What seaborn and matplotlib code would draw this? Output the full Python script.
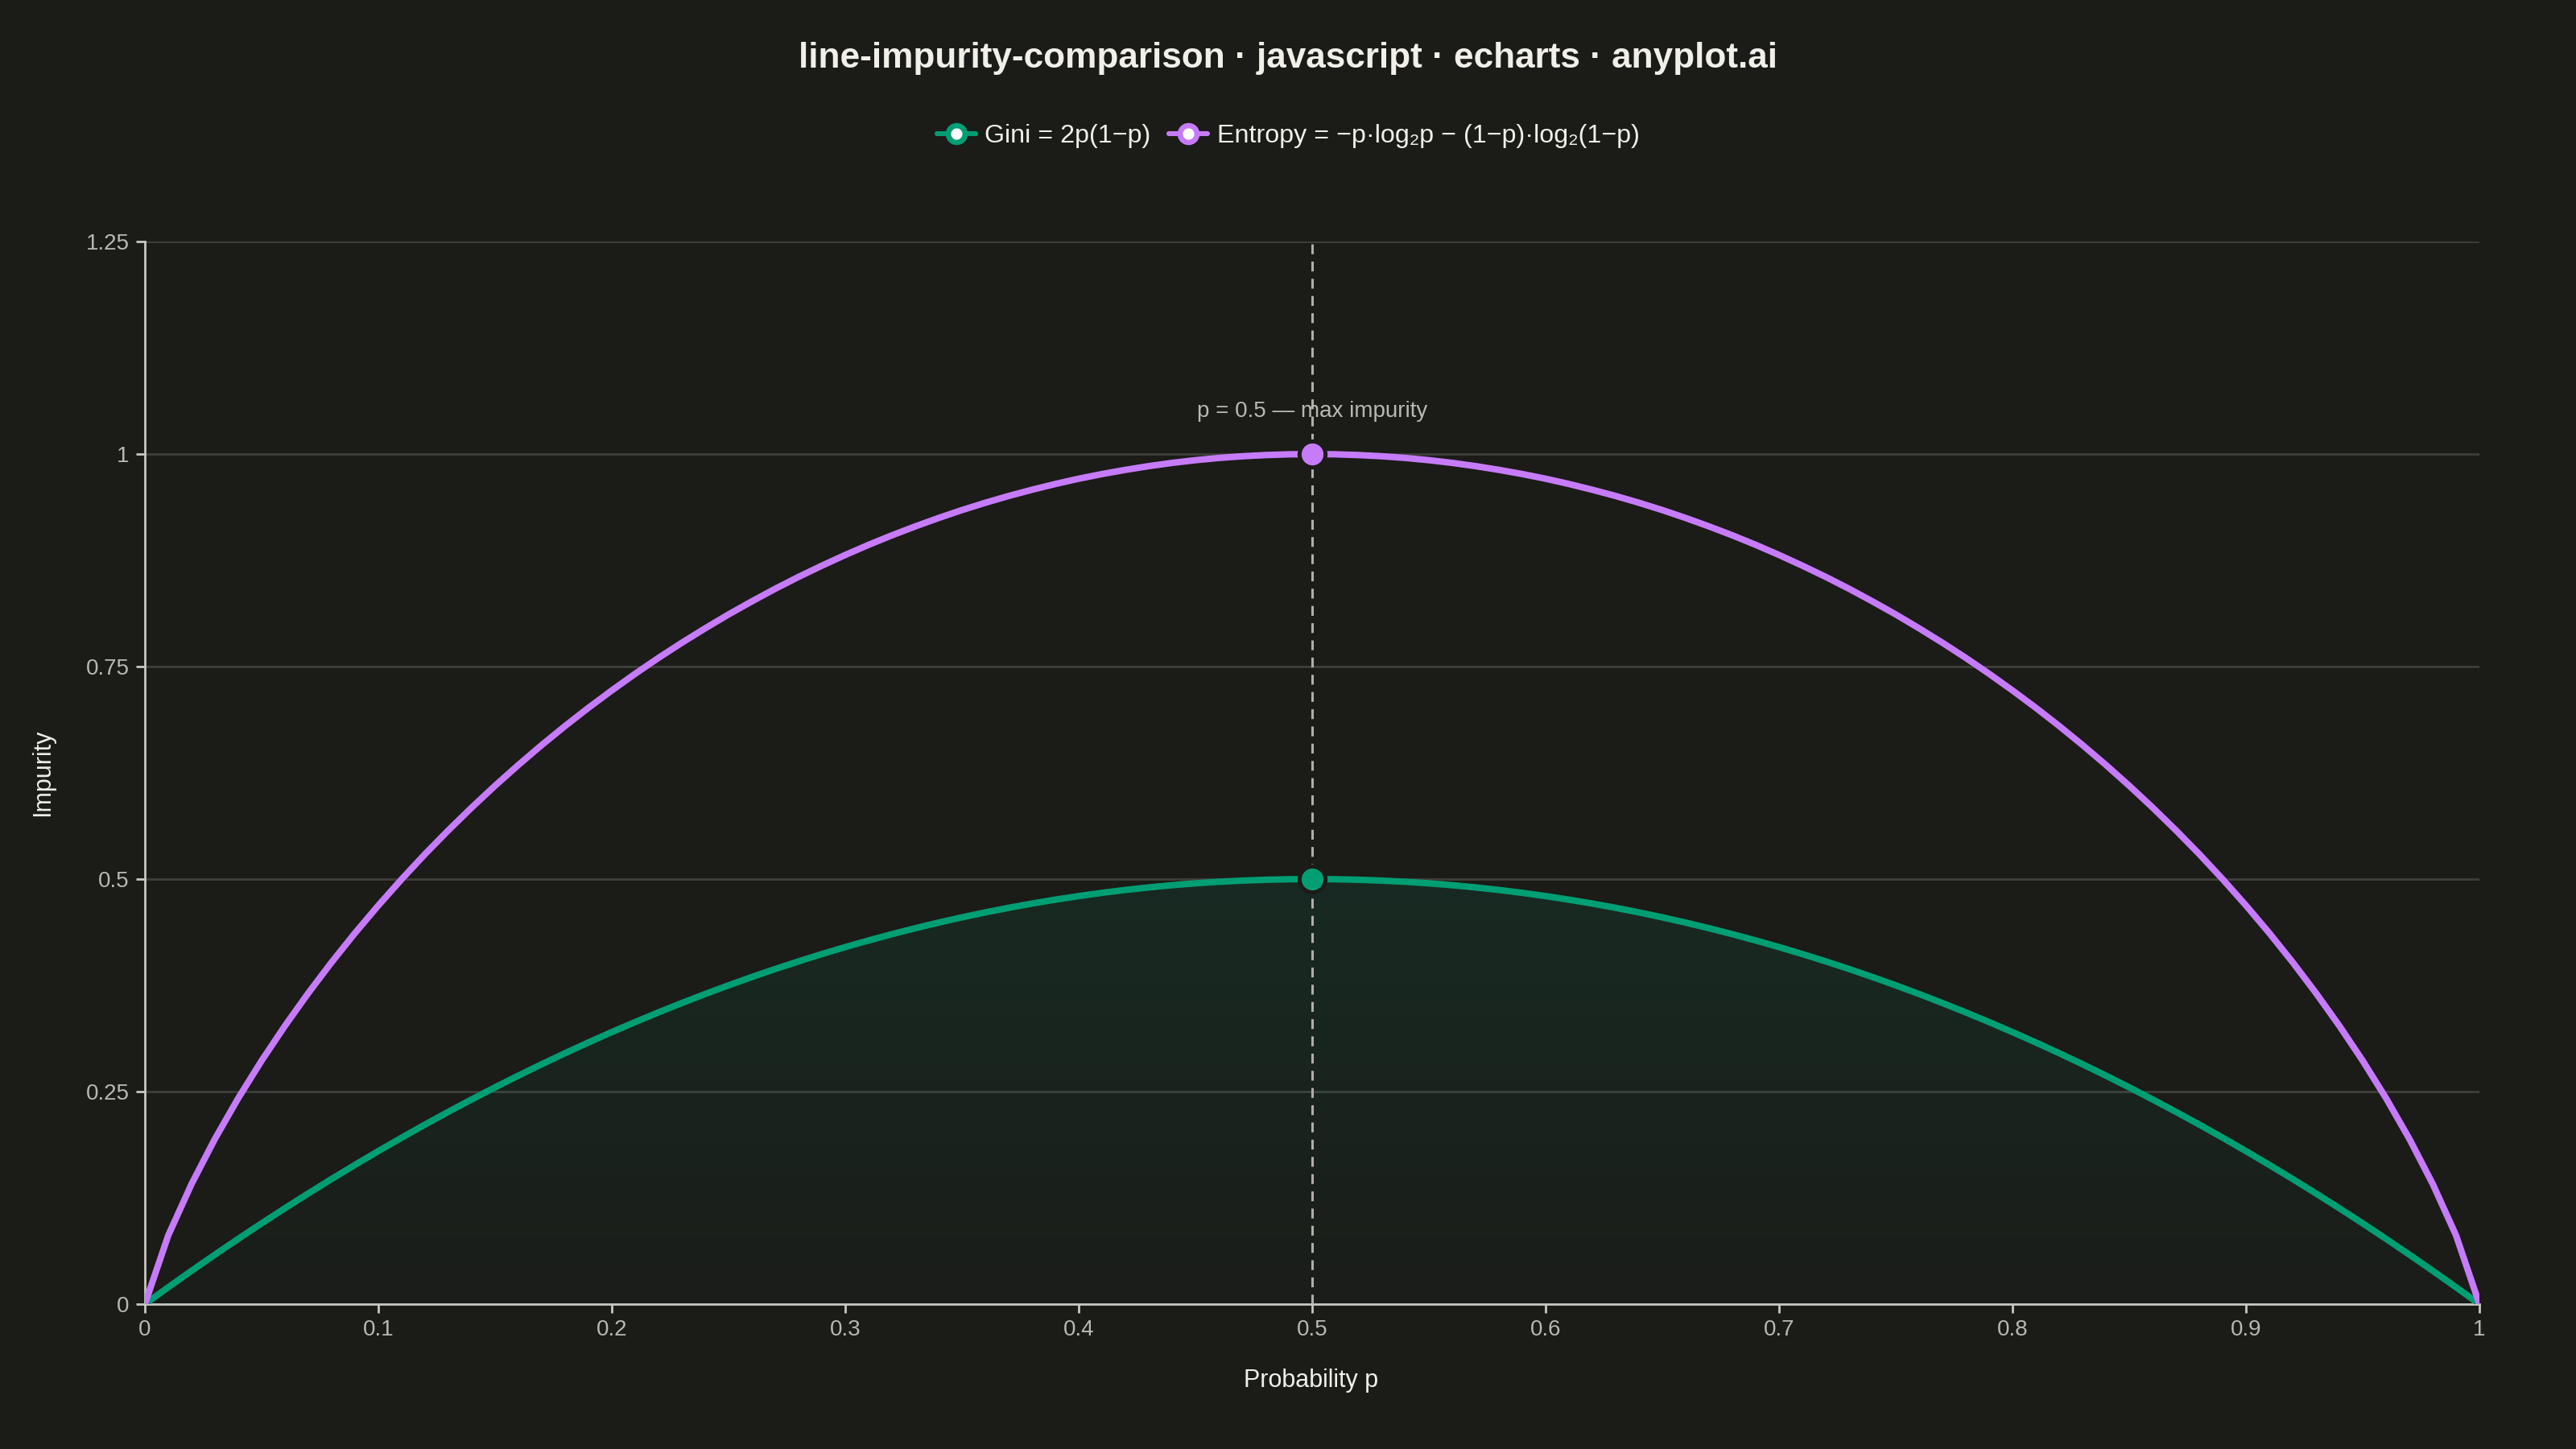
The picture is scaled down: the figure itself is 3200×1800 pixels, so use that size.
import numpy as np
import matplotlib.pyplot as plt
import seaborn as sns
from matplotlib.lines import Line2D

# Dados
p = [0.00, 0.01, 0.02, 0.03, 0.04, 0.05, 0.06, 0.07, 0.08, 0.09,
     0.10, 0.11, 0.12, 0.13, 0.14, 0.15, 0.16, 0.17, 0.18, 0.19,
     0.20, 0.21, 0.22, 0.23, 0.24, 0.25, 0.26, 0.27, 0.28, 0.29,
     0.30, 0.31, 0.32, 0.33, 0.34, 0.35, 0.36, 0.37, 0.38, 0.39,
     0.40, 0.41, 0.42, 0.43, 0.44, 0.45, 0.46, 0.47, 0.48, 0.49,
     0.50, 0.51, 0.52, 0.53, 0.54, 0.55, 0.56, 0.57, 0.58, 0.59,
     0.60, 0.61, 0.62, 0.63, 0.64, 0.65, 0.66, 0.67, 0.68, 0.69,
     0.70, 0.71, 0.72, 0.73, 0.74, 0.75, 0.76, 0.77, 0.78, 0.79,
     0.80, 0.81, 0.82, 0.83, 0.84, 0.85, 0.86, 0.87, 0.88, 0.89,
     0.90, 0.91, 0.92, 0.93, 0.94, 0.95, 0.96, 0.97, 0.98, 0.99,
     1.00]

gini = [0.0, 0.0198, 0.0392, 0.0582, 0.0768, 0.0950, 0.1128, 0.1302, 0.1472, 0.1638,
        0.1800, 0.1958, 0.2112, 0.2262, 0.2408, 0.2550, 0.2688, 0.2822, 0.2952, 0.3078,
        0.3200, 0.3318, 0.3432, 0.3542, 0.3648, 0.3750, 0.3848, 0.3942, 0.4032, 0.4118,
        0.4200, 0.4278, 0.4352, 0.4422, 0.4488, 0.4550, 0.4608, 0.4662, 0.4712, 0.4758,
        0.4800, 0.4838, 0.4872, 0.4902, 0.4928, 0.4950, 0.4968, 0.4982, 0.4992, 0.4998,
        0.5000, 0.4998, 0.4992, 0.4982, 0.4968, 0.4950, 0.4928, 0.4902, 0.4872, 0.4838,
        0.4800, 0.4758, 0.4712, 0.4662, 0.4608, 0.4550, 0.4488, 0.4422, 0.4352, 0.4278,
        0.4200, 0.4118, 0.4032, 0.3942, 0.3848, 0.3750, 0.3648, 0.3542, 0.3432, 0.3318,
        0.3200, 0.3078, 0.2952, 0.2822, 0.2688, 0.2550, 0.2408, 0.2262, 0.2112, 0.1958,
        0.1800, 0.1638, 0.1472, 0.1302, 0.1128, 0.0950, 0.0768, 0.0582, 0.0392, 0.0198,
        0.0]

entropia = [0.0, 0.0808, 0.1414, 0.1944, 0.2423, 0.2864, 0.3274, 0.3659, 0.4022, 0.4365,
            0.4690, 0.4999, 0.5294, 0.5574, 0.5842, 0.6098, 0.6343, 0.6577, 0.6801, 0.7015,
            0.7219, 0.7415, 0.7602, 0.7780, 0.7950, 0.8113, 0.8267, 0.8415, 0.8555, 0.8687,
            0.8813, 0.8932, 0.9044, 0.9149, 0.9248, 0.9341, 0.9427, 0.9507, 0.9580, 0.9648,
            0.9710, 0.9765, 0.9814, 0.9858, 0.9896, 0.9928, 0.9954, 0.9974, 0.9988, 0.9997,
            1.0000, 0.9997, 0.9988, 0.9974, 0.9954, 0.9928, 0.9896, 0.9858, 0.9814, 0.9765,
            0.9710, 0.9648, 0.9580, 0.9507, 0.9427, 0.9341, 0.9248, 0.9149, 0.9044, 0.8932,
            0.8813, 0.8687, 0.8555, 0.8415, 0.8267, 0.8113, 0.7950, 0.7780, 0.7602, 0.7415,
            0.7219, 0.7015, 0.6801, 0.6577, 0.6343, 0.6098, 0.5842, 0.5574, 0.5294, 0.4999,
            0.4690, 0.4365, 0.4022, 0.3659, 0.3274, 0.2864, 0.2423, 0.1944, 0.1414, 0.0808,
            0.0]

x_ticks = [0, 0.1, 0.2, 0.3, 0.4, 0.5, 0.6, 0.7, 0.8, 0.9, 1]
x_labels = ["0", "0.1", "0.2", "0.3", "0.4", "0.5", "0.6", "0.7", "0.8", "0.9", "1"]
y_ticks = [0, 0.25, 0.5, 0.75, 1, 1.25]
y_labels = ["0", "0.25", "0.5", "0.75", "1", "1.25"]

pico_p = [0.5]
pico_gini = [0.5]
pico_entropia = [1.0]

# Cores
bg = "#1b1b18"
verde = "#009e73"
roxo = "#c67bfb"
texto = "#f0efe8"
texto_sec = "#b9b8b0"
eixo = "#c9c8c0"
grade = "#3f3f3a"

sns.set_theme(style="dark")
plt.rcParams["font.family"] = ["Liberation Sans", "DejaVu Sans"]

fig = plt.figure(figsize=(16, 9), dpi=200, facecolor=bg)
ax = fig.add_axes([0.05625, 0.10, 0.90625, 0.7333])
ax.set_facecolor(bg)

ax.set_xlim(0, 1)
ax.set_ylim(0, 1.25)

# Grade horizontal
for yt in y_ticks[1:]:
    ax.axhline(yt, color=grade, lw=1.0, zorder=1)

# Preenchimento em gradiente sob a Gini
poly = ax.fill_between(p, gini, 0, color="none", lw=0)
grad = np.zeros((256, 1, 4))
rgb = plt.matplotlib.colors.to_rgb(verde)
grad[:, :, 0] = rgb[0]
grad[:, :, 1] = rgb[1]
grad[:, :, 2] = rgb[2]
grad[:, 0, 3] = np.linspace(0.12, 0.015, 256)
img = ax.imshow(grad, extent=[0, 1, 0, 0.5], aspect="auto", origin="upper", zorder=2)
img.set_clip_path(poly.get_paths()[0], transform=ax.transData)

# Linha de referência em p = 0.5
ax.plot([0.5, 0.5], [0, 1.25], color="#b0afa8", lw=1.1, ls=(0, (4, 3)), zorder=3)

# Curvas
sns.lineplot(x=p, y=gini, color=verde, lw=2.9, ax=ax, zorder=4, legend=False)
sns.lineplot(x=p, y=entropia, color=roxo, lw=2.9, ax=ax, zorder=4, legend=False)

# Pontos de máximo
ax.scatter(pico_p, pico_gini, s=135, color=verde, edgecolor=bg, linewidth=1.8, zorder=6)
ax.scatter(pico_p, pico_entropia, s=135, color=roxo, edgecolor=bg, linewidth=1.8, zorder=6)

ax.text(0.5, 1.05, "p = 0.5 — max impurity", ha="center", va="center",
        color=texto_sec, fontsize=10)

# Eixos
for s in ["top", "right"]:
    ax.spines[s].set_visible(False)
for s in ["left", "bottom"]:
    ax.spines[s].set_color(eixo)
    ax.spines[s].set_linewidth(1.0)
ax.set_xticks(x_ticks)
ax.set_xticklabels(x_labels)
ax.set_yticks(y_ticks)
ax.set_yticklabels(y_labels)
ax.tick_params(axis="both", colors=eixo, labelcolor=texto_sec, labelsize=10,
               length=4, width=1.0, direction="out", bottom=True, left=True, pad=3)
ax.grid(False)
ax.set_xlabel("")
ax.set_ylabel("")

fig.text(0.509, 0.047, "Probability p", ha="center", va="center", color=texto, fontsize=11)
fig.text(0.0165, 0.467, "Impurity", ha="center", va="center", rotation=90,
         color=texto, fontsize=11)

fig.text(0.5, 0.9595, "line-impurity-comparison · javascript · echarts · anyplot.ai",
         ha="center", va="center", color=texto, fontsize=15.9, fontweight="bold")

handles = [
    Line2D([0], [0], color=verde, lw=2.2, marker="o", markersize=7.5,
           markerfacecolor="white", markeredgecolor=verde, markeredgewidth=2.4),
    Line2D([0], [0], color=roxo, lw=2.2, marker="o", markersize=7.5,
           markerfacecolor="white", markeredgecolor=roxo, markeredgewidth=2.4),
]
labels = ["Gini = 2p(1−p)", "Entropy = −p·log₂p − (1−p)·log₂(1−p)"]
leg = fig.legend(handles, labels, loc="center", bbox_to_anchor=(0.5, 0.906), ncol=2,
                 frameon=False, fontsize=11.6, handlelength=1.5, handletextpad=0.35,
                 columnspacing=0.7, labelcolor=texto)

fig.savefig("out.png", dpi=200, facecolor=bg)
plt.close()
